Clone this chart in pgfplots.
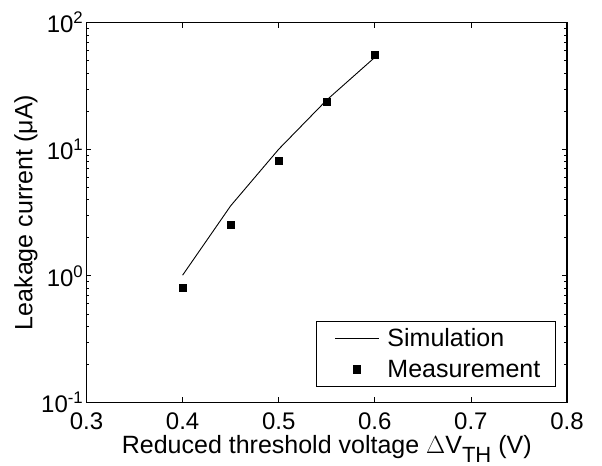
\documentclass[border=0pt]{standalone}
\usepackage{fontspec}
\setmainfont{Liberation Sans}
\usepackage{pgfplots}
\pgfplotsset{compat=1.18}
\pgfplotsset{
  simleg/.style={legend image code/.code={\path[draw=none,fill=none] (-8bp,0bp) -- (44bp,0bp); \draw[##1] (0bp,0bp) -- (44bp,0bp);}},
  measleg/.style={legend image code/.code={\path[draw=none,fill=none] (-8bp,0bp) -- (44bp,0bp); \path[##1, draw=none] plot[only marks] coordinates {(22bp,0bp)};}},
}
\begin{document}
\begin{tikzpicture}
\useasboundingbox (-86.5bp,-63.7bp) rectangle (515.5bp,402.3bp);
\begin{axis}[
  ymode=log,
  scale only axis,
  width=480.5bp, height=379.6bp,
  anchor=south west, at={(0,0)},
  xmin=0.3, xmax=0.8, ymin=0.1, ymax=100,
  xtick={0.3,0.4,0.5,0.6,0.7,0.8},
  xticklabels={0.3,0.4,0.5,0.6,0.7,0.8},
  ytick={0.1,1,10,100},
  yticklabels={10\textsuperscript{-1},10\textsuperscript{0},10\textsuperscript{1},10\textsuperscript{2}},
  tick align=inside,
  major tick length=5bp, minor tick length=3bp,
  every tick/.style={black, line width=0.7bp},
  axis line style={line width=1.2bp},
  xticklabel style={font=\fontsize{24bp}{26bp}\selectfont, inner sep=0bp, yshift=-10bp},
  yticklabel style={font=\fontsize{24bp}{26bp}\selectfont, inner sep=0bp, xshift=-3bp},
  label style={font=\fontsize{25bp}{28bp}\selectfont},
  xlabel={Reduced threshold voltage $\Delta$V\raisebox{-9bp}{\fontsize{22bp}{24bp}\selectfont TH} (V)},
  ylabel={Leakage current ({\char"03BC}A)},
  xlabel style={at={(rel axis cs:0.5,0)}, anchor=base, yshift=-51bp, inner sep=0bp},
  ylabel style={at={(rel axis cs:0,0.5)}, anchor=base, yshift=54bp, inner sep=0bp},
  legend style={at={(0.9765,0.041)}, anchor=south east, draw=black, line width=0.8bp,
    font=\fontsize{25bp}{28bp}\selectfont, inner xsep=11bp, inner ysep=3.5bp,
    row sep=4bp, column sep=4bp, cells={anchor=west}, nodes={inner sep=4bp}},
]
\addplot[black, line width=0.9bp, mark=none, simleg] coordinates {
  (0.40,1.01) (0.45,3.57) (0.50,10.0) (0.55,24.5) (0.60,53.2)
};
\addlegendentry{Simulation}
\addplot[black, fill=black, only marks, mark=square*, mark size=3.6bp, measleg] coordinates {
  (0.40,0.80) (0.45,2.53) (0.50,8.07) (0.55,23.7) (0.60,55.8)
};
\addlegendentry{Measurement}
\end{axis}
\end{tikzpicture}
\end{document}
